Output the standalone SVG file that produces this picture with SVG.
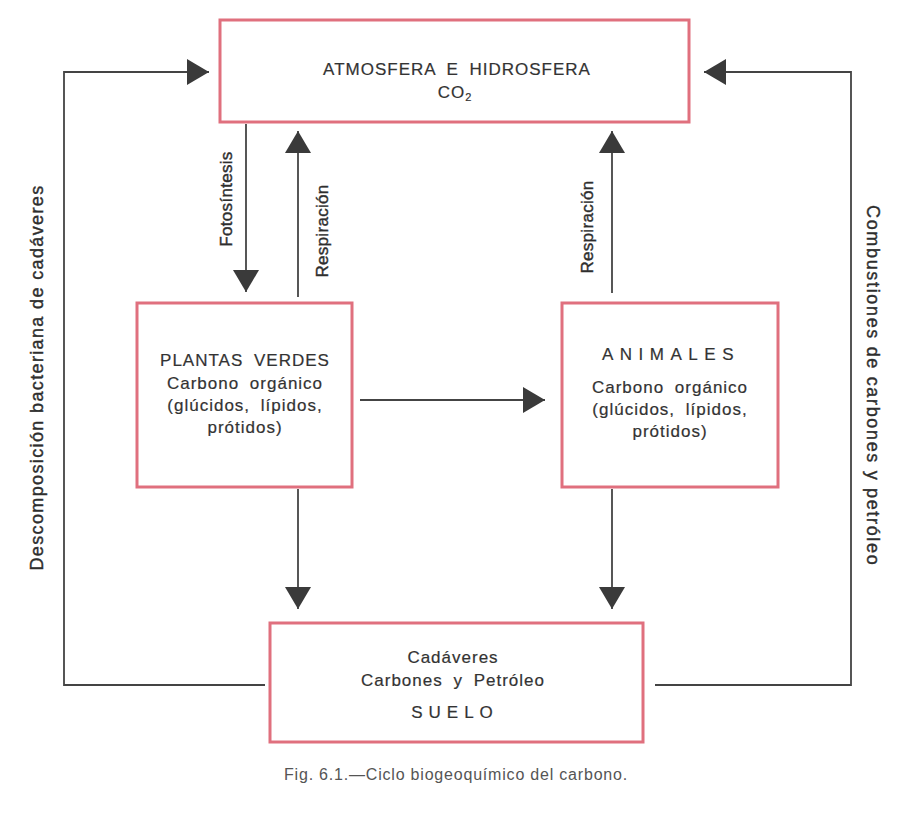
<svg xmlns="http://www.w3.org/2000/svg" width="903" height="813" viewBox="0 0 903 813">
<defs>
<style>
.box{fill:#ffffff;stroke:#e0707e;stroke-width:3}
.t{font-family:"Liberation Sans",Arial,sans-serif;font-size:17px;fill:#333;stroke:#333;stroke-width:0.2px;text-anchor:middle;letter-spacing:1px;word-spacing:5px}
.lbl{font-family:"Liberation Sans",Arial,sans-serif;font-size:17px;fill:#2e2e2e;stroke:#2e2e2e;stroke-width:0.4px;text-anchor:middle;letter-spacing:0.3px}
.big{font-size:18px}
.cap{font-family:"Liberation Sans",Arial,sans-serif;font-size:16px;fill:#555;text-anchor:middle;letter-spacing:0.8px}
.ln{fill:none;stroke:#444;stroke-width:1.8}
</style>
<marker id="ah" markerUnits="userSpaceOnUse" markerWidth="22" markerHeight="26" refX="22" refY="13" orient="auto">
<path d="M0,0 L22,13 L0,26 z" fill="#3a3a3a"/>
</marker>
</defs>
<rect width="903" height="813" fill="#ffffff"/>

<g id="connectors">
<path class="ln" d="M246,124 L246,292" marker-end="url(#ah)"/>
<path class="ln" d="M298,297 L298,131" marker-end="url(#ah)"/>
<path class="ln" d="M612,293 L612,131" marker-end="url(#ah)"/>
<path class="ln" d="M360,400 L545,400" marker-end="url(#ah)"/>
<path class="ln" d="M298,489 L298,609" marker-end="url(#ah)"/>
<path class="ln" d="M612,489 L612,609" marker-end="url(#ah)"/>
<path class="ln" d="M265,685 L64,685 L64,72 L209,72" marker-end="url(#ah)"/>
<path class="ln" d="M655,685 L851,685 L851,72 L704,72" marker-end="url(#ah)"/>
<text class="lbl" transform="translate(232,199) rotate(-90)">Fotosíntesis</text>
<text class="lbl" transform="translate(328,231) rotate(-90)">Respiración</text>
<text class="lbl" transform="translate(593,227) rotate(-90)">Respiración</text>
<text class="lbl big" transform="translate(43,378) rotate(-90)" textLength="385" lengthAdjust="spacing">Descomposición bacteriana de cadáveres</text>
<text class="lbl big" transform="translate(867,385) rotate(90)" textLength="360" lengthAdjust="spacing">Combustiones de carbones y petróleo</text>
</g>

<g id="atmosfera">
<rect class="box" x="220" y="20" width="469" height="102"/>
<text class="t" x="457" y="75">ATMOSFERA E HIDROSFERA</text>
<text class="t" x="455" y="98">CO<tspan font-size="11px" dy="3">2</tspan></text>
</g>

<g id="plantas">
<rect class="box" x="137" y="303" width="215" height="184"/>
<text class="t" x="245" y="366">PLANTAS VERDES</text>
<text class="t" x="245" y="389">Carbono orgánico</text>
<text class="t" x="245" y="411">(glúcidos, lípidos,</text>
<text class="t" x="245" y="433">prótidos)</text>
</g>

<g id="animales">
<rect class="box" x="562" y="303" width="216" height="184"/>
<text class="t" x="671" y="360" style="letter-spacing:6.5px">ANIMALES</text>
<text class="t" x="670" y="393">Carbono orgánico</text>
<text class="t" x="670" y="415">(glúcidos, lípidos,</text>
<text class="t" x="670" y="437">prótidos)</text>
</g>

<g id="suelo">
<rect class="box" x="270" y="623" width="373" height="119"/>
<text class="t" x="453" y="663">Cadáveres</text>
<text class="t" x="453" y="686">Carbones y Petróleo</text>
<text class="t" x="455" y="718" style="letter-spacing:6px">SUELO</text>
</g>

<text class="cap" x="456" y="780">Fig. 6.1.—Ciclo biogeoquímico del carbono.</text>
</svg>
